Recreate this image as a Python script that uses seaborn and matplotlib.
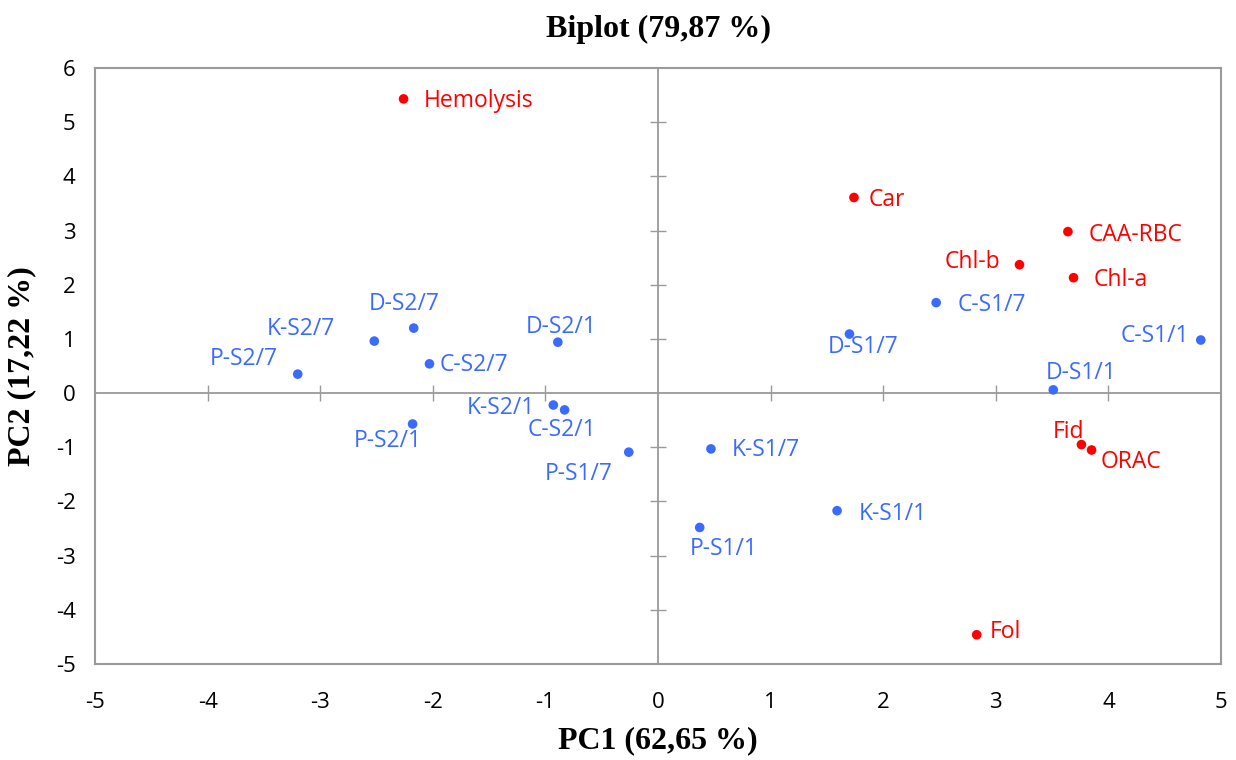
import matplotlib
matplotlib.use("Agg")
import matplotlib.pyplot as plt
import seaborn as sns
import pandas as pd

# ---- data ----
obs_names = ["P-S2/7", "K-S2/7", "D-S2/7", "C-S2/7", "P-S2/1", "D-S2/1", "K-S2/1", "C-S2/1",
             "P-S1/7", "K-S1/7", "P-S1/1", "K-S1/1", "D-S1/7", "C-S1/7", "D-S1/1", "C-S1/1"]
obs_pc1 = [-3.20, -2.52, -2.17, -2.03, -2.18, -0.89, -0.93, -0.83,
           -0.26, 0.47, 0.37, 1.59, 1.70, 2.47, 3.51, 4.82]
obs_pc2 = [0.35, 0.96, 1.20, 0.54, -0.57, 0.94, -0.22, -0.31,
           -1.09, -1.03, -2.48, -2.17, 1.09, 1.67, 0.06, 0.98]

var_names = ["Hemolysis", "Car", "CAA-RBC", "Chl-b", "Chl-a", "Fid", "ORAC", "Fol"]
var_pc1 = [-2.26, 1.74, 3.64, 3.21, 3.69, 3.76, 3.85, 2.83]
var_pc2 = [5.43, 3.61, 2.98, 2.37, 2.13, -0.95, -1.05, -4.46]

x_ticks = [-5, -4, -3, -2, -1, 0, 1, 2, 3, 4, 5]
y_ticks = [-5, -4, -3, -2, -1, 0, 1, 2, 3, 4, 5, 6]

title = "Biplot (79,87 %)"
xlabel = "PC1 (62,65 %)"
ylabel = "PC2 (17,22 %)"

# ---- layout / style (pixel offsets, alignment) ----
label_pos = {
    "Hemolysis": (20, -2, "left"), "Car": (15, -2, "left"), "CAA-RBC": (21, -3, "left"),
    "Chl-b": (-19, 3, "right"), "Chl-a": (20, -2, "left"), "Fid": (3, 13, "right"),
    "ORAC": (9, -12, "left"), "Fol": (13, 3, "left"),
    "P-S2/7": (-54, 15, "center"), "K-S2/7": (-73, 12, "center"), "D-S2/7": (-10, 24, "center"),
    "C-S2/7": (10, -1, "left"), "P-S2/1": (-25, -17, "center"), "D-S2/1": (3, 15, "center"),
    "K-S2/1": (-18, -3, "right"), "C-S2/1": (-3, -20, "center"), "P-S1/7": (-50, -22, "center"),
    "K-S1/7": (21, -1, "left"), "P-S1/1": (24, -22, "center"), "K-S1/1": (22, -3, "left"),
    "D-S1/7": (14, -13, "center"), "C-S1/7": (21, -2, "left"), "D-S1/1": (28, 17, "center"),
    "C-S1/1": (-12, 4, "right"),
}

BLUE = "#3a6bff"
RED = "#ff0000"
GRAY = "#9a9a9a"

sns.set_style("white")
plt.rcParams["font.family"] = ["Open Sans", "DejaVu Sans"]
plt.rcParams["text.color"] = "black"

df = pd.concat([
    pd.DataFrame({"name": obs_names, "PC1": obs_pc1, "PC2": obs_pc2, "kind": "obs"}),
    pd.DataFrame({"name": var_names, "PC1": var_pc1, "PC2": var_pc2, "kind": "var"}),
], ignore_index=True)

fig = plt.figure(figsize=(12.36, 7.60), dpi=100)
rect = [0.0769, 0.1263, 0.9110, 0.7842]

# background axes: zero lines with crossing ticks
ax0 = fig.add_axes(rect)
ax0.set_xlim(x_ticks[0], x_ticks[-1])
ax0.set_ylim(y_ticks[0], y_ticks[-1])
for side in ["top", "right"]:
    ax0.spines[side].set_visible(False)
ax0.spines["left"].set_position(("data", 0))
ax0.spines["bottom"].set_position(("data", 0))
for side in ["left", "bottom"]:
    ax0.spines[side].set_color(GRAY)
    ax0.spines[side].set_linewidth(1.3)
ax0.xaxis.set_ticks_position("bottom")
ax0.yaxis.set_ticks_position("left")
ax0.set_xticks([t for t in x_ticks if t not in (x_ticks[0], x_ticks[-1], 0)])
ax0.set_yticks([t for t in y_ticks if t not in (y_ticks[0], y_ticks[-1], 0)])
ax0.tick_params(direction="inout", length=12, width=1.0, color=GRAY,
                labelbottom=False, labelleft=False)

# main axes
ax = fig.add_axes(rect)
ax.patch.set_alpha(0)
sns.scatterplot(data=df, x="PC1", y="PC2", hue="kind",
                palette={"obs": BLUE, "var": RED}, s=48, linewidth=0,
                legend=False, ax=ax, zorder=5)

ax.set_xlim(x_ticks[0], x_ticks[-1])
ax.set_ylim(y_ticks[0], y_ticks[-1])
ax.set_xticks(x_ticks)
ax.set_yticks(y_ticks)
ax.set_xticklabels([str(t) for t in x_ticks])
ax.set_yticklabels([str(t) for t in y_ticks])
ax.tick_params(axis="y", length=0, labelsize=16, labelcolor="black", pad=14)
ax.tick_params(axis="x", length=0, labelsize=16, labelcolor="black", pad=20)
for sp in ax.spines.values():
    sp.set_color(GRAY)
    sp.set_linewidth(1.5)

for name, x, y, kind in zip(df["name"], df["PC1"], df["PC2"], df["kind"]):
    dx, dy, ha = label_pos[name]
    ax.annotate(name, (x, y), xytext=(dx * 0.72, dy * 0.72), textcoords="offset points",
                ha=ha, va="center", fontsize=16.5,
                color=BLUE if kind == "obs" else RED, zorder=6)

serif = ["Liberation Serif", "DejaVu Serif"]
ax.set_title(title, fontsize=23, fontweight="bold", family=serif, pad=22, color="black")
ax.set_xlabel(xlabel, fontsize=23, fontweight="bold", family=serif, labelpad=10, color="black")
ax.set_ylabel(ylabel, fontsize=23, fontweight="bold", family=serif, labelpad=14, color="black")

fig.savefig("out.png", dpi=100, facecolor="white")
